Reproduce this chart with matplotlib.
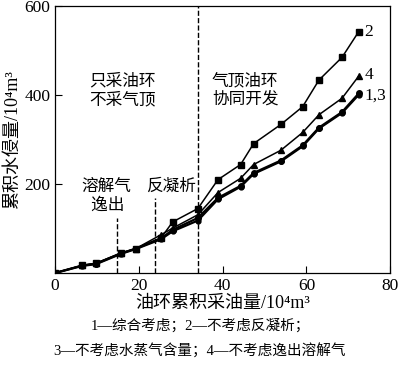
import matplotlib
matplotlib.use("Agg")
import matplotlib.pyplot as plt

plt.rcParams['font.family'] = ['Liberation Serif', 'Noto Sans CJK SC']

x = [0, 6.5, 9.8, 15.7, 19.3, 25.3, 28.1, 34.1, 38.9, 44.3, 47.4, 53.9, 59.1, 63.0, 68.5, 72.5]
s2 = [0, 17, 22, 45, 55, 79, 115, 145, 210, 244, 291, 334, 374, 434, 485, 543]
s4 = [0, 17, 22, 44, 55, 86, 101, 131, 181, 213, 244, 276, 316, 356, 393, 443]
s1 = [0, 17, 21, 44, 55, 78, 97, 124, 169, 196, 225, 253, 287, 327, 362, 404]
s3 = [0, 16, 20, 43, 54, 76, 94, 118, 166, 194, 223, 251, 285, 325, 360, 401]

xticks = [0, 20, 40, 60, 80]
yticks = [200, 400, 600]

fig = plt.figure(figsize=(4.0, 3.65), dpi=100)
ax = fig.add_axes([0.1375, 0.252, 0.838, 0.731])

ax.plot(x, s2, '-s', color='black', lw=1.1, ms=4)
ax.plot(x, s4, '-^', color='black', lw=1.1, ms=4)
ax.plot(x, s3, '-o', color='black', lw=1.6, ms=3.5)
ax.plot(x, s1, '-o', color='black', lw=1.6, ms=4)

ax.set_xlim(0, 80)
ax.set_ylim(0, 600)
ax.set_xticks(xticks)
ax.set_yticks(yticks)
ax.tick_params(direction='in', length=5, labelsize=12.5, width=0.8)
for sp in ax.spines.values():
    sp.set_linewidth(0.9)

# vertical dashed lines
ax.plot([14.7, 14.7], [0, 124], ls='--', color='black', lw=1)
ax.plot([23.8, 23.8], [0, 169], ls='--', color='black', lw=1)
ax.axvline(34.2, ls='--', color='black', lw=1)

ax.text(16, 410, '只采油环\n不采气顶', ha='center', va='center', fontsize=12, linespacing=1.2)
ax.text(45.4, 410, '气顶油环\n协同开发', ha='center', va='center', fontsize=12, linespacing=1.2)
ax.text(12.2, 172, '溶解气\n 逸出', ha='center', va='center', fontsize=12, linespacing=1.2)
ax.text(27.6, 195, '反凝析', ha='center', va='center', fontsize=12)

ax.text(73.8, 543, '2', ha='left', va='center', fontsize=12.5)
ax.text(73.8, 446, '4', ha='left', va='center', fontsize=12.5)
ax.text(73.8, 400, '1,3', ha='left', va='center', fontsize=12.5)

ax.set_xlabel('油环累积采油量/10⁴m³', fontsize=13, labelpad=1)
ax.set_ylabel('累积水侵量/10⁴m³', fontsize=13, labelpad=2)

fig.text(0.5, 0.108, '1—综合考虑；2—不考虑反凝析；', ha='center', va='center', fontsize=10.5)
fig.text(0.5, 0.038, '3—不考虑水蒸气含量；4—不考虑逸出溶解气', ha='center', va='center', fontsize=10.5)

fig.savefig('out.png', dpi=100)
